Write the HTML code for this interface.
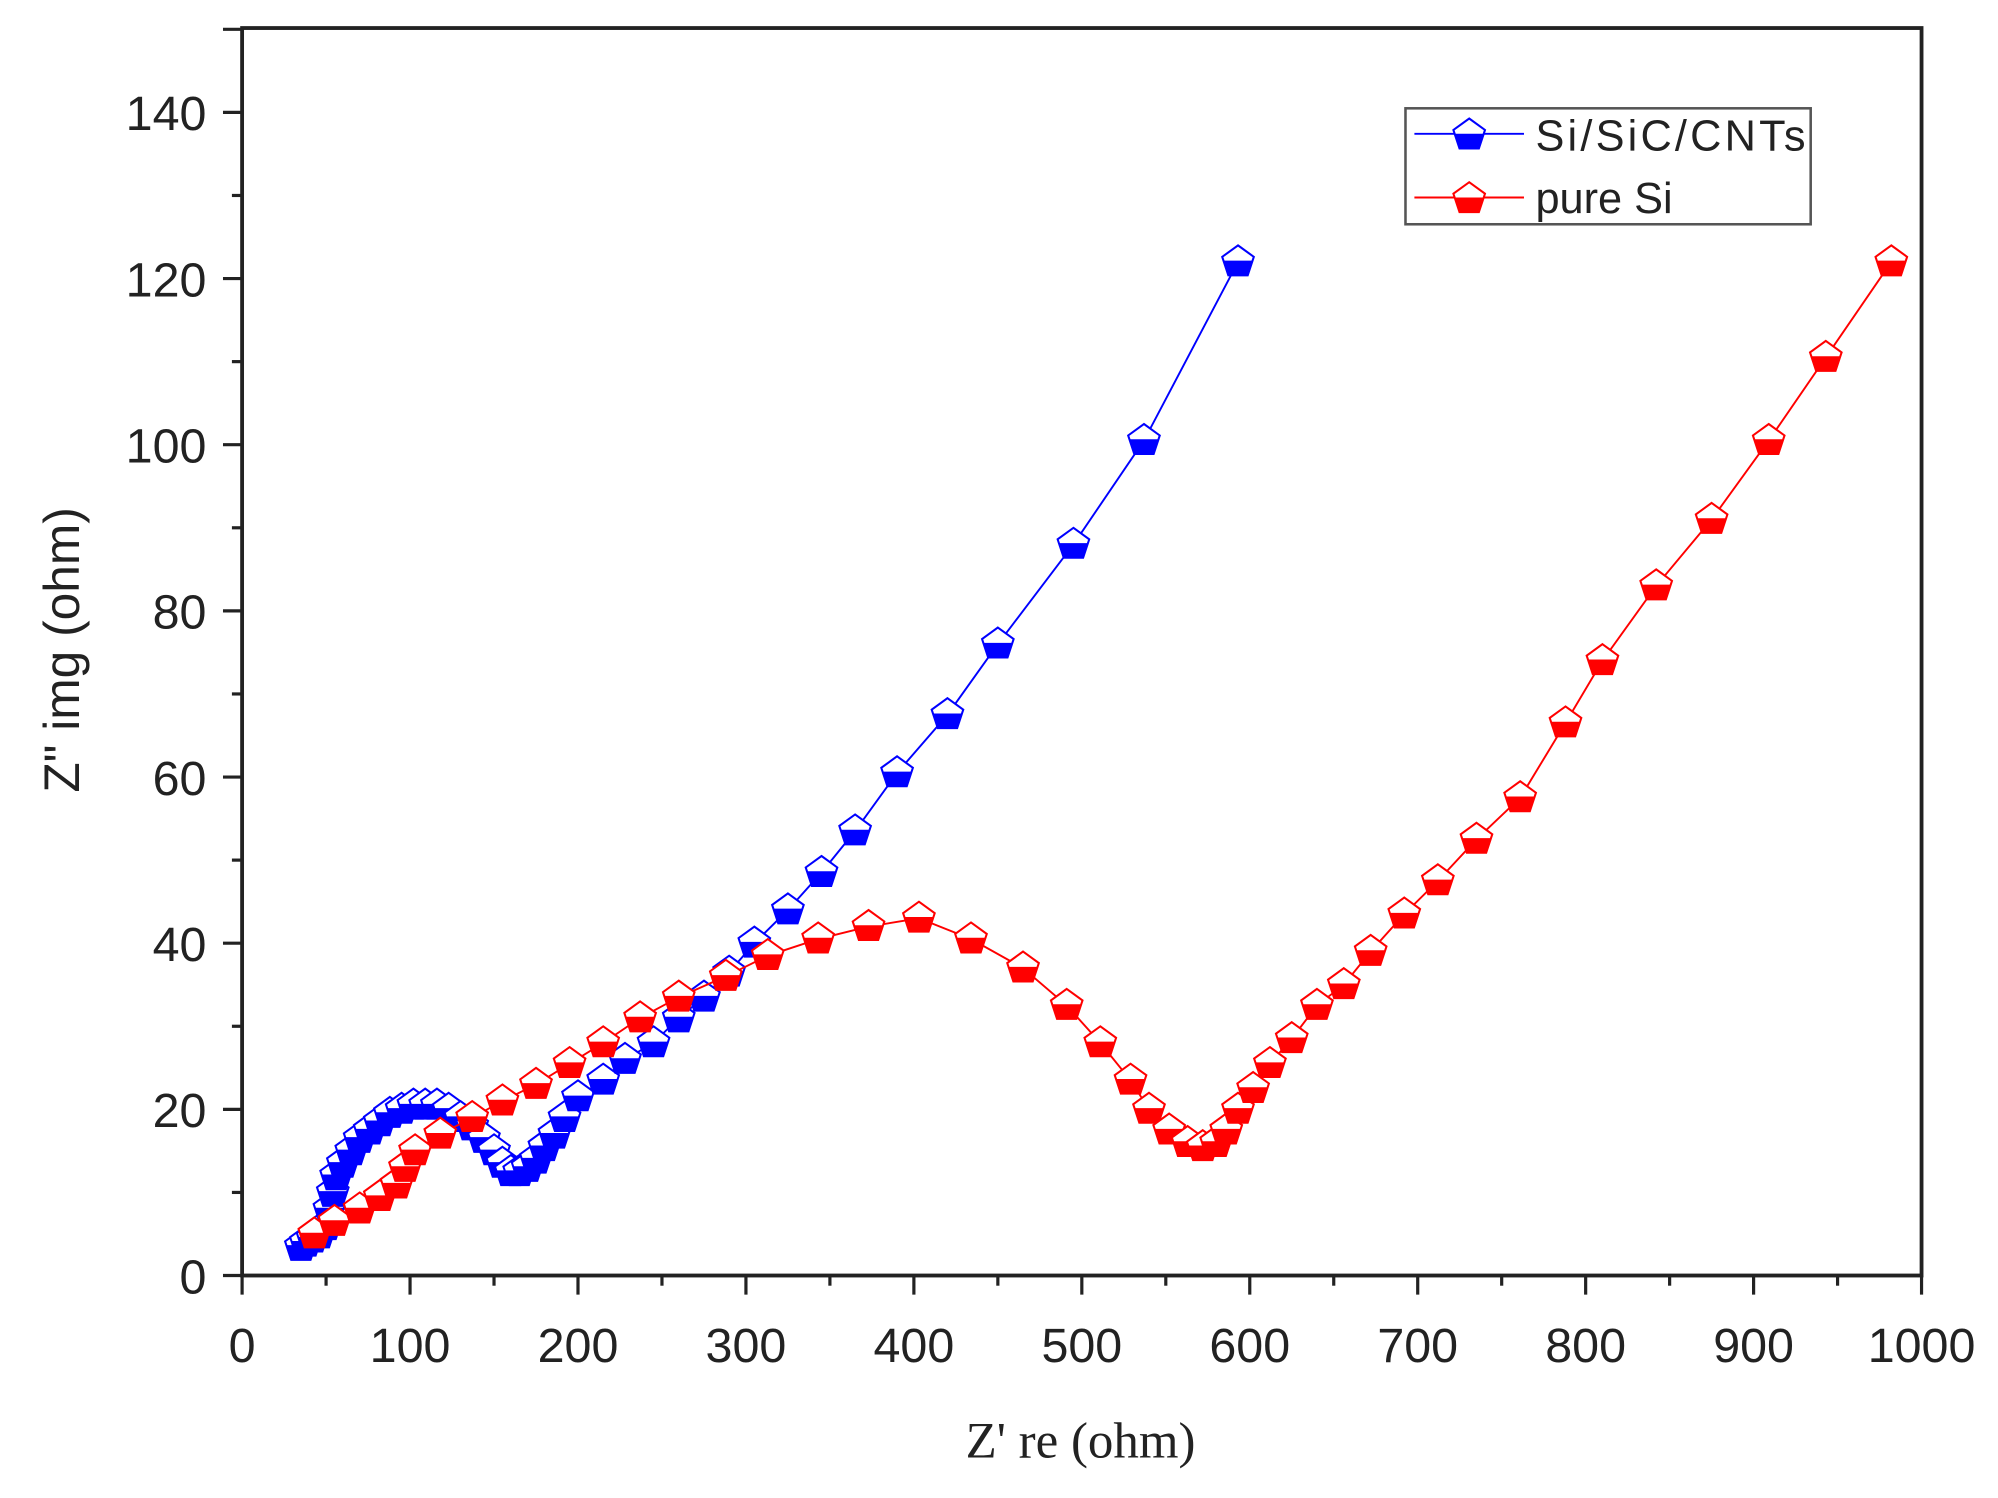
<!DOCTYPE html>
<html><head><meta charset="utf-8"><style>
html,body{margin:0;padding:0;background:#fff;}
svg{display:block;}
</style></head><body>
<svg id="c" width="1998" height="1498" viewBox="0 0 1568 1175.6" xmlns="http://www.w3.org/2000/svg">
<defs>
<clipPath id="lh"><rect x="-20" y="-1" width="40" height="30"/></clipPath>
<g id="mb"><path d="M0,-13 L12.4,-4 L7.6,10.5 L-7.6,10.5 L-12.4,-4 Z" fill="#fff" stroke="#00f" stroke-width="1.6"/><path d="M0,-13 L12.4,-4 L7.6,10.5 L-7.6,10.5 L-12.4,-4 Z" fill="#00f" clip-path="url(#lh)"/></g>
<g id="mr"><path d="M0,-13 L12.4,-4 L7.6,10.5 L-7.6,10.5 L-12.4,-4 Z" fill="#fff" stroke="#f00" stroke-width="1.6"/><path d="M0,-13 L12.4,-4 L7.6,10.5 L-7.6,10.5 L-12.4,-4 Z" fill="#f00" clip-path="url(#lh)"/></g>
</defs>
<g id="ax" stroke="#222" stroke-width="3" fill="none">
<rect x="190" y="22" width="1318" height="979"/>
</g>
<g id="ticks" stroke="#222" stroke-width="2.5"></g>
<g id="series"></g>
<g font-family="Liberation Sans, sans-serif" font-size="38" fill="#222" id="lbl"></g>
<text x="848" y="1144" font-family="Liberation Serif, serif" font-size="40" text-anchor="middle" fill="#222">Z' re (ohm)</text>
<text transform="translate(62,510) rotate(-90)" font-family="Liberation Sans, sans-serif" font-size="39" text-anchor="middle" fill="#222">Z" img (ohm)</text>
<g>
<rect x="1103" y="85" width="318" height="91" fill="#fff" stroke="#555" stroke-width="2"/>
<line x1="1110" y1="105" x2="1196" y2="105" stroke="#00f" stroke-width="1.5"/>
<use href="#mb" x="1153" y="106"/>
<line x1="1110" y1="155" x2="1196" y2="155" stroke="#f00" stroke-width="1.5"/>
<use href="#mr" x="1153" y="156"/>
<text x="1205" y="118" font-family="Liberation Sans, sans-serif" font-size="34" fill="#222" textLength="212">Si/SiC/CNTs</text>
<text x="1205" y="167" font-family="Liberation Sans, sans-serif" font-size="34" fill="#222">pure Si</text>
</g>
<script>
var NS="http://www.w3.org/2000/svg";
function X(v){return 190+1.318*v;} function Y(v){return 1001-6.52*v;}
function el(t,a,p){var e=document.createElementNS(NS,t);for(var k in a)e.setAttribute(k,a[k]);p.appendChild(e);return e;}
var tk=document.getElementById('ticks'),lb=document.getElementById('lbl');
for(var v=0;v<=1000;v+=50){var maj=v%100==0;el('line',{x1:X(v),y1:1001,x2:X(v),y2:1001+(maj?15:8)},tk);
 if(maj){var t=el('text',{x:X(v),y:1069,'text-anchor':'middle'},lb);t.textContent=v;}}
for(var v=0;v<=140;v+=10){var maj=v%20==0;el('line',{x1:190,y1:Y(v),x2:190-(maj?15:8),y2:Y(v)},tk);
 if(maj){var t=el('text',{x:162,y:Y(v)+14,'text-anchor':'end'},lb);t.textContent=v;}}
el('line',{x1:190,y1:Y(150),x2:175,y2:Y(150)},tk);
var blue=[[35,3.5],[38,4],[42,4.5],[46,5],[50,6],[52,8],[54,10],[56,12],[60,13.5],[65,15],[70,16.5],[76,17.5],[82,18.5],[88,19.5],[95,20],[102,20.5],[109,20.5],[116,20.5],[123,20],[130,19],[137,18],[144,16.5],[150,15],[155,13.5],[160,12.5],[165,12.5],[170,13],[175,14],[180,15.5],[186,17],[192,19],[200,21.5],[215,23.5],[228,26],[245,28],[260,31],[275,33.5],[290,36.5],[305,40],[325,44],[345,48.5],[365,53.5],[390,60.5],[420,67.5],[450,76],[495,88],[537,100.5],[593,122]];
var red=[[43,5],[55,6.5],[70,8],[82,9.5],[92,11],[97,13],[103,15],[118,17],[137,19],[155,21],[175,23],[195,25.5],[215,28],[237,31],[260,33.5],[288,36],[313,38.5],[343,40.5],[373,42],[403,43],[434,40.5],[465,37],[491,32.5],[511,28],[529,23.5],[540,20],[552,17.5],[563,16],[572,15.5],[580,16],[586,17.5],[593,20],[602,22.5],[612,25.5],[625,28.5],[640,32.5],[656,35],[672,39],[692,43.5],[712,47.5],[735,52.5],[761,57.5],[788,66.5],[810,74],[842,83],[875,91],[909,100.5],[943,110.5],[982,122]];
var sg=document.getElementById('series');
function draw(d,c,m){el('polyline',{points:d.map(function(p){return X(p[0])+','+Y(p[1]);}).join(' '),fill:'none',stroke:c,'stroke-width':1.5},sg);
 d.forEach(function(p){el('use',{href:m,x:X(p[0]),y:Y(p[1])},sg);});}
draw(blue,'#00f','#mb');draw(red,'#f00','#mr');
</script>
</svg>
</body></html>
